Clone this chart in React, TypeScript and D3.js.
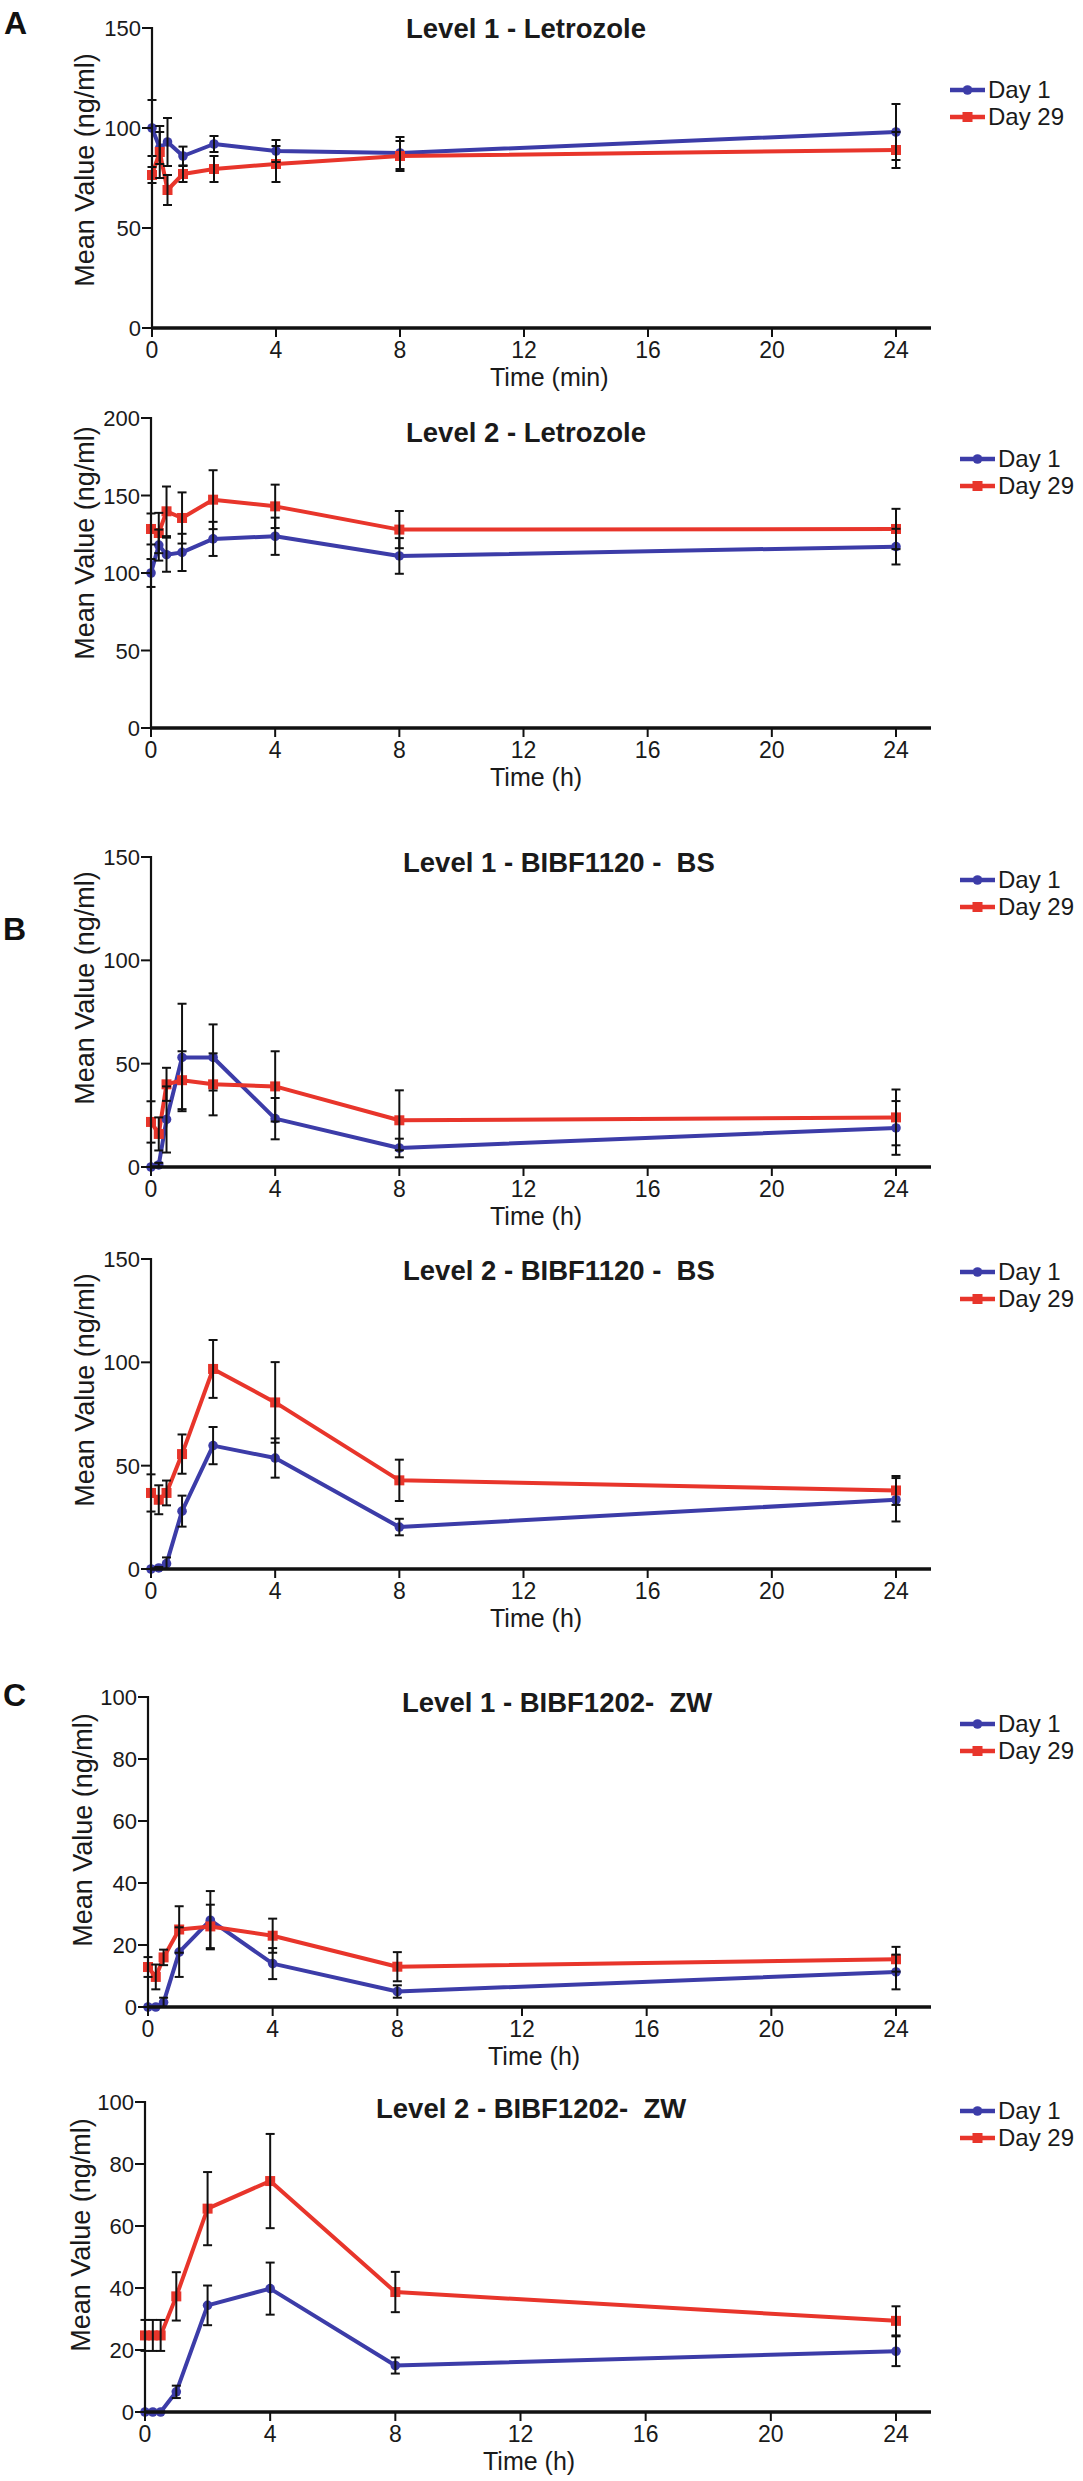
import React from "react";
import * as d3 from "d3";

// ---------- DATA ----------
const TIMES = [0, 0.25, 0.5, 1, 2, 4, 8, 24];
const X_TICKS = [0, 4, 8, 12, 16, 20, 24];
const SERIES_NAMES = ["Day 1", "Day 29"];
const PANEL_LETTERS = ["A", "B", "C"];

const TITLES = [
  "Level 1 - Letrozole",
  "Level 2 - Letrozole",
  "Level 1 - BIBF1120 -  BS",
  "Level 2 - BIBF1120 -  BS",
  "Level 1 - BIBF1202-  ZW",
  "Level 2 - BIBF1202-  ZW",
];
const X_LABELS = ["Time (min)", "Time (h)", "Time (h)", "Time (h)", "Time (h)", "Time (h)"];
const Y_LABEL = "Mean Value (ng/ml)";
const Y_MAX = [150, 200, 150, 150, 100, 100];
const Y_STEP = [50, 50, 50, 50, 20, 20];

// Panel 1: Level 1 - Letrozole
const p1Day1 = [100, 90, 93, 86, 92, 88.5, 87.5, 98];
const p1Day1Err = [14, 8, 12, 4.7, 4, 5.5, 8, 14];
const p1Day29 = [76.5, 88, 69, 77, 79.5, 82, 86, 89];
const p1Day29Err = [4, 13, 7.5, 4, 6.5, 9, 7.5, 9];

// Panel 2: Level 2 - Letrozole
const p2Day1 = [100, 118, 111.8, 113.3, 122, 123.7, 111, 117];
const p2Day1Err = [9, 10, 11, 12, 11, 12, 11.5, 11.5];
const p2Day29 = [128.4, 125.8, 139.8, 135.5, 147.3, 143, 128, 128.4];
const p2Day29Err = [10, 13, 16, 16.5, 19, 14, 12, 13];

// Panel 3: Level 1 - BIBF1120 - BS
const p3Day1 = [0, 1, 23, 53, 53, 23.4, 9.2, 18.9];
const p3Day1Err = [0, 1, 16, 26, 16, 10, 4.5, 13];
const p3Day29 = [21.8, 16, 40, 42, 40, 39, 22.6, 24];
const p3Day29Err = [10, 8, 8, 14, 15, 17, 14.5, 13.5];

// Panel 4: Level 2 - BIBF1120 - BS
const p4Day1 = [0, 0.5, 2.6, 28, 59.7, 53.7, 20.3, 33.5];
const p4Day1Err = [0, 0.5, 3, 7.5, 9, 9.5, 4, 10.5];
const p4Day29 = [36.8, 33.5, 36.8, 55.6, 96.8, 80.6, 42.9, 38];
const p4Day29Err = [9, 7, 6, 9.5, 14, 19.5, 10, 7];

// Panel 5: Level 1 - BIBF1202 - ZW
const p5Day1 = [0, 0, 1.5, 17.7, 28, 14, 5, 11.3];
const p5Day1Err = [0, 0, 1.5, 8, 9.4, 5, 2, 5.6];
const p5Day29 = [12.9, 9.7, 16, 25, 26, 23, 13, 15.4];
const p5Day29Err = [3.2, 4, 2.5, 7.5, 7, 5.5, 4.7, 4];

// Panel 6: Level 2 - BIBF1202 - ZW
const p6Day1 = [0, 0, 0, 6.5, 34.4, 39.8, 15, 19.6];
const p6Day1Err = [0, 0, 0, 2, 6.4, 8.4, 2.6, 4.8];
const p6Day29 = [24.7, 24.7, 24.7, 37.3, 65.6, 74.5, 38.7, 29.4];
const p6Day29Err = [5, 5, 5, 7.8, 11.8, 15.2, 6.5, 4.7];

const DAY1 = [p1Day1, p2Day1, p3Day1, p4Day1, p5Day1, p6Day1];
const DAY1_ERR = [p1Day1Err, p2Day1Err, p3Day1Err, p4Day1Err, p5Day1Err, p6Day1Err];
const DAY29 = [p1Day29, p2Day29, p3Day29, p4Day29, p5Day29, p6Day29];
const DAY29_ERR = [p1Day29Err, p2Day29Err, p3Day29Err, p4Day29Err, p5Day29Err, p6Day29Err];

// ---------- LAYOUT / STYLE ----------
const W = 1083;
const H = 2481;
const FONT = "'Liberation Sans', Arial, Helvetica, sans-serif";
const BLUE = "#3c3ca8";
const RED = "#e8352b";
const X24 = 896;
const AXIS_END = 931;

const LAYOUT = [
  { top: 28, bottom: 328, x0: 152, titleX: 406, titleY: 38, legX: 950, legY: 90, ylabY: 170, ylabX: 94, xlabX: 490 },
  { top: 418, bottom: 728, x0: 151, titleX: 406, titleY: 442, legX: 960, legY: 459, ylabY: 543, ylabX: 94, xlabX: 490 },
  { top: 857, bottom: 1167, x0: 151, titleX: 403, titleY: 872, legX: 960, legY: 880, ylabY: 988, ylabX: 94, xlabX: 490 },
  { top: 1259, bottom: 1569, x0: 151, titleX: 403, titleY: 1280, legX: 960, legY: 1272, ylabY: 1390, ylabX: 94, xlabX: 490 },
  { top: 1697, bottom: 2007, x0: 148, titleX: 402, titleY: 1712, legX: 960, legY: 1724, ylabY: 1830, ylabX: 92, xlabX: 488 },
  { top: 2102, bottom: 2412, x0: 145, titleX: 376, titleY: 2118, legX: 960, legY: 2111, ylabY: 2235, ylabX: 90, xlabX: 483 },
];
const LETTER_POS = [
  { x: 4, y: 34 },
  { x: 3, y: 940 },
  { x: 3, y: 1706 },
];

function Marker({ kind, x, y }: { kind: number; x: number; y: number }) {
  if (kind === 0) {
    return <circle cx={x} cy={y} r={4.8} fill={BLUE} />;
  }
  return <rect x={x - 5} y={y - 5} width={10} height={10} fill={RED} />;
}

function Panel({ i }: { i: number }) {
  const L = LAYOUT[i];
  const x = d3.scaleLinear().domain([0, 24]).range([L.x0, X24]);
  const y = d3.scaleLinear().domain([0, Y_MAX[i]]).range([L.bottom, L.top]);
  const yTicks = d3.range(0, Y_MAX[i] + 0.001, Y_STEP[i]);
  const line = d3
    .line<number>()
    .x((_, k) => x(TIMES[k]))
    .y((v) => y(v));
  const series = [
    { vals: DAY1[i], errs: DAY1_ERR[i], color: BLUE },
    { vals: DAY29[i], errs: DAY29_ERR[i], color: RED },
  ];
  return (
    <g>
      {/* lines */}
      {series.map((s, si) => (
        <path key={"l" + si} d={line(s.vals) || ""} fill="none" stroke={s.color} strokeWidth={4} strokeLinejoin="round" />
      ))}
      {/* markers */}
      {series.map((s, si) =>
        s.vals.map((v, k) => <Marker key={"m" + si + "-" + k} kind={si} x={x(TIMES[k])} y={y(v)} />)
      )}
      {/* error bars */}
      {series.map((s, si) =>
        s.vals.map((v, k) => {
          const e = s.errs[k];
          if (!e) return null;
          const cx = x(TIMES[k]);
          const y1 = y(v + e);
          const y2 = y(Math.max(0, v - e));
          return (
            <g key={"e" + si + "-" + k} stroke="#111" strokeWidth={2}>
              <line x1={cx} x2={cx} y1={y1} y2={y2} />
              <line x1={cx - 4.5} x2={cx + 4.5} y1={y1} y2={y1} />
              <line x1={cx - 4.5} x2={cx + 4.5} y1={y2} y2={y2} />
            </g>
          );
        })
      )}
      {/* y axis */}
      <line x1={L.x0} x2={L.x0} y1={L.top - 1} y2={L.bottom} stroke="#111" strokeWidth={2.2} />
      {yTicks.map((t) => (
        <g key={"yt" + t}>
          <line x1={L.x0 - 10} x2={L.x0} y1={y(t)} y2={y(t)} stroke="#111" strokeWidth={2} />
          <text x={L.x0 - 11} y={y(t) + 8} textAnchor="end" fontSize={22} fontFamily={FONT} fill="#1a1a1a">
            {t}
          </text>
        </g>
      ))}
      {/* x axis */}
      <line x1={L.x0 - 1} x2={AXIS_END} y1={L.bottom} y2={L.bottom} stroke="#111" strokeWidth={3.5} />
      {X_TICKS.map((t) => (
        <g key={"xt" + t}>
          <line x1={x(t)} x2={x(t)} y1={L.bottom} y2={L.bottom + 9} stroke="#111" strokeWidth={2} />
          <text x={x(t)} y={L.bottom + 30} textAnchor="middle" fontSize={23} fontFamily={FONT} fill="#1a1a1a">
            {t}
          </text>
        </g>
      ))}
      {/* labels */}
      <text x={L.xlabX} y={L.bottom + 58} fontSize={25} fontFamily={FONT} fill="#1a1a1a">
        {X_LABELS[i]}
      </text>
      <text
        transform={`translate(${L.ylabX},${L.ylabY}) rotate(-90)`}
        textAnchor="middle"
        fontSize={27}
        fontFamily={FONT}
        fill="#1a1a1a"
      >
        {Y_LABEL}
      </text>
      <text
        x={L.titleX}
        y={L.titleY}
        fontSize={27.5}
        fontWeight="bold"
        fontFamily={FONT}
        fill="#1a1a1a"
        style={{ whiteSpace: "pre" }}
      >
        {TITLES[i]}
      </text>
      {/* legend */}
      {SERIES_NAMES.map((name, si) => {
        const ly = L.legY + si * 27;
        return (
          <g key={"lg" + si}>
            <line x1={L.legX} x2={L.legX + 35} y1={ly} y2={ly} stroke={si === 0 ? BLUE : RED} strokeWidth={4.5} />
            <Marker kind={si} x={L.legX + 17.5} y={ly} />
            <text x={L.legX + 38} y={ly + 8} fontSize={24} fontFamily={FONT} fill="#1a1a1a">
              {name}
            </text>
          </g>
        );
      })}
    </g>
  );
}

export default function App() {
  return (
    <svg
      width={W}
      height={H}
      viewBox={`0 0 ${W} ${H}`}
      style={{ position: "absolute", left: 0, top: 0, background: "#fff" }}
    >
      <rect x={0} y={0} width={W} height={H} fill="#fff" />
      {LAYOUT.map((_, i) => (
        <Panel key={i} i={i} />
      ))}
      {PANEL_LETTERS.map((c, k) => (
        <text key={c} x={LETTER_POS[k].x} y={LETTER_POS[k].y} fontSize={32} fontWeight="bold" fontFamily={FONT} fill="#111">
          {c}
        </text>
      ))}
    </svg>
  );
}
